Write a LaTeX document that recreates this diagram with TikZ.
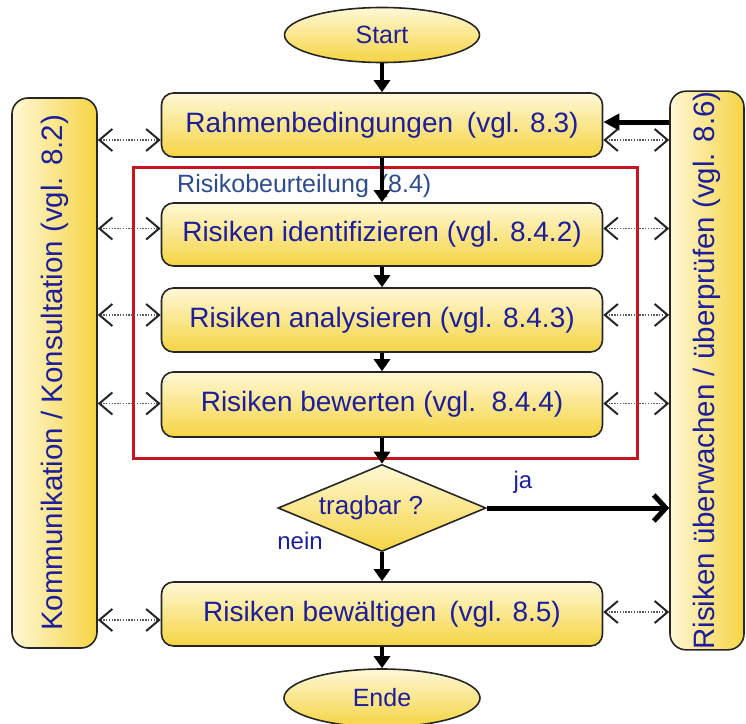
\documentclass[tikz,border=0pt]{standalone}
\usepackage{fontspec}
\usepackage{graphicx}
\setmainfont{Liberation Sans}
\usetikzlibrary{shapes.geometric,arrows.meta}

\definecolor{txt}{HTML}{1E1E9A}
\definecolor{subtxt}{HTML}{2E4C8C}
\definecolor{frame}{HTML}{262626}
\definecolor{dots}{HTML}{5A5A5A}
\definecolor{paleY}{HTML}{FFF8D6}
\definecolor{deepY}{HTML}{F5D442}
\definecolor{redframe}{HTML}{C8141E}

\tikzset{
  stepbox/.style={draw=frame, line width=1.6pt, rounded corners=12pt,
    top color=paleY, bottom color=deepY, minimum width=441pt,
    minimum height=64pt, inner sep=0pt, text=txt,
    font=\fontsize{28}{30}\selectfont},
  sidebar/.style={draw=frame, line width=1.6pt, rounded corners=16pt,
    left color=paleY, right color=deepY, inner sep=0pt, text=txt,
    font=\fontsize{29.5}{31}\selectfont},
  terminal/.style={ellipse, draw=frame, line width=1.6pt,
    top color=paleY, bottom color=deepY, inner sep=0pt, text=txt,
    font=\fontsize{25}{27}\selectfont},
  decision/.style={diamond, aspect=2.38, draw=frame, line width=1.6pt,
    top color=paleY, bottom color=deepY, inner sep=0pt, text=txt,
    minimum width=208pt, minimum height=87pt,
    font=\fontsize{26}{28}\selectfont},
  flow/.style={draw=black, line width=4pt, -{Triangle[length=12pt,width=16pt]}},
  feedback/.style={draw=black, line width=5pt, -{Triangle[length=16pt,width=16pt]}},
  yesflow/.style={draw=black, line width=5pt,
    -{Straight Barb[length=12pt,width=26pt,line width=5pt]}},
  talktip/.tip={Straight Barb[length=13pt,width=22pt,line width=2pt,color=frame]},
  talk/.style={draw=dots, line width=1.4pt, dash pattern=on 1.4pt off 1.4pt,
    talktip-talktip},
  flowlabel/.style={text=txt, font=\fontsize{24}{26}\selectfont, inner sep=0pt}
}

\begin{document}
\begin{tikzpicture}[x=1pt,y=1pt]
  \useasboundingbox (0,0) rectangle (746,-723);

  % risk assessment frame
  \node[draw=redframe, line width=3pt, minimum width=504pt, minimum height=291pt,
        inner sep=0pt] (assess) at (385,-312.5) {};
  \node[anchor=west, text=subtxt, font=\fontsize{25}{27}\selectfont, inner sep=0pt]
        (assesslabel) at (177,-186) {Risikobeurteilung\hspace{4pt} (8.4)};

  % side bars
  \node[sidebar, minimum width=85pt, minimum height=550pt] (komm) at (54.5,-373)
        {\rotatebox{90}{Kommunikation / Konsultation (vgl. 8.2)}};
  \node[sidebar, minimum width=74pt, minimum height=555pt] (review) at (707,-370.5)
        {\rotatebox{90}{Risiken überwachen / überprüfen (vgl. 8.6)}};

  % main process
  \node[terminal, minimum width=195pt, minimum height=55pt] (start) at (382,-35) {Start};
  \node[stepbox] (rahmen) at (382,-125) {Rahmenbedingungen\hspace{6pt} (vgl. 8.3)};
  \node[stepbox, minimum height=63pt] (ident) at (382,-234.5) {Risiken identifizieren (vgl. 8.4.2)};
  \node[stepbox] (analys) at (382,-320) {Risiken analysieren (vgl. 8.4.3)};
  \node[stepbox, minimum height=65pt] (bewert) at (382,-404.5) {Risiken bewerten (vgl.\hspace{5pt} 8.4.4)};
  \node[decision] (tragbar) at (382,-508) {\hspace{-22pt}tragbar ?};
  \node[stepbox] (bewaelt) at (382,-614) {Risiken bewältigen\hspace{5pt} (vgl. 8.5)};
  \node[terminal, minimum width=196pt, minimum height=58pt] (ende) at (382,-698) {Ende};

  \node[flowlabel] (ja) at (523,-482) {ja};
  \node[flowlabel] (nein) at (300,-541) {nein};

  % main flow
  \draw[flow] (start.south) -- (rahmen.north);
  \draw[flow] (rahmen.south) -- (ident.north);
  \draw[flow] (ident.south) -- (analys.north);
  \draw[flow] (analys.south) -- (bewert.north);
  \draw[flow] (bewert.south) -- (tragbar.north);
  \draw[flow] (tragbar.south) -- (bewaelt.north);
  \draw[flow] (bewaelt.south) -- (ende.north);

  % accepted risks go to monitoring, monitoring feeds back
  \draw[yesflow] (tragbar.east) -- (review.west |- tragbar.east);
  \coordinate (fb) at ([yshift=3pt]rahmen.east);
  \draw[feedback] (review.west |- fb) -- (fb);

  % communication / monitoring links
  \coordinate (rL) at ([yshift=-15pt]rahmen.west);
  \coordinate (rR) at ([yshift=-15pt]rahmen.east);
  \coordinate (iL) at ([yshift=6pt]ident.west);
  \coordinate (iR) at ([yshift=6pt]ident.east);
  \coordinate (aL) at ([yshift=5pt]analys.west);
  \coordinate (aR) at ([yshift=5pt]analys.east);
  \coordinate (wL) at ([yshift=1pt]bewert.west);
  \coordinate (wR) at ([yshift=1pt]bewert.east);
  \coordinate (bL) at ([yshift=-6pt]bewaelt.west);
  \coordinate (bR) at ([yshift=2pt]bewaelt.east);
  \foreach \p in {rL,iL,aL,wL,bL} {
    \draw[talk] (komm.east |- \p) -- (\p);
  }
  \foreach \p in {rR,iR,aR,wR,bR} {
    \draw[talk] (\p) -- (review.west |- \p);
  }
\end{tikzpicture}
\end{document}
